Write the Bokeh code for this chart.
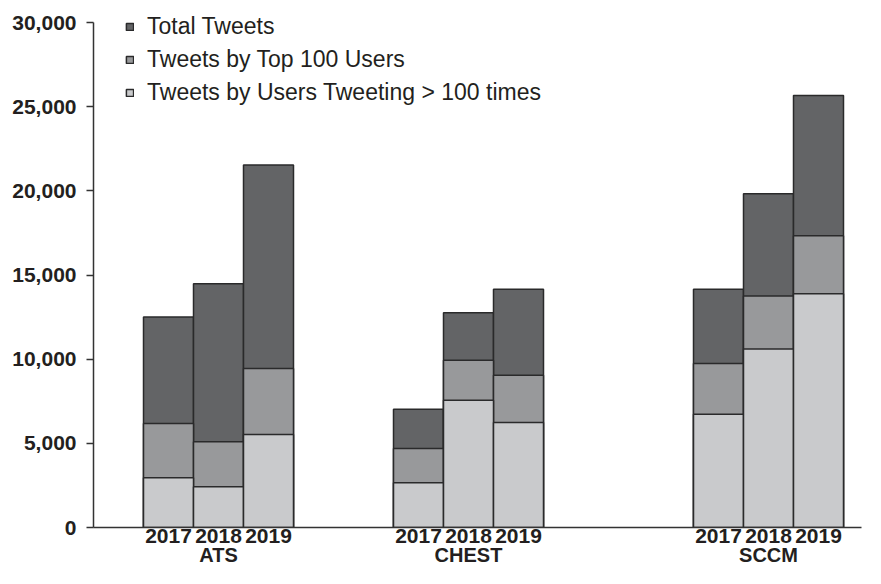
from bokeh.plotting import figure
from bokeh.models import ColumnDataSource, FixedTicker, LinearAxis, Legend, LegendItem, NumeralTickFormatter, Range1d
from bokeh.embed import file_html
from bokeh.resources import INLINE

# ---- data ----
groups = ["ATS", "CHEST", "SCCM"]
years = ["2017", "2018", "2019"]
total_tweets = [12500, 14480, 21540, 7030, 12760, 14150, 14160, 19820, 25670]
top100_tweets = [6180, 5090, 9440, 4700, 9930, 9050, 9740, 13750, 17330]
over100_tweets = [2960, 2420, 5530, 2660, 7560, 6240, 6730, 10610, 13890]
y_ticks = [0, 5000, 10000, 15000, 20000, 25000, 30000]

# ---- layout (bar slots) ----
group_start = [1.5, 6.5, 12.5]
xs = [group_start[g] + i for g in range(len(groups)) for i in range(len(years))]
year_labels = [years[i] for g in range(len(groups)) for i in range(len(years))]
group_centers = [s + (len(years) - 1) / 2 for s in group_start]
y_axis_top = y_ticks[-1]
y_view_top = 31070  # a little headroom above the axis so the legend fits in the frame

src = ColumnDataSource(dict(x=xs, total=total_tweets, top=top100_tweets, over=over100_tweets))

FONT = "Liberation Sans"
DARK = "#231f20"

p = figure(width=865, height=568, output_backend="svg", toolbar_location=None,
           x_range=Range1d(0, 15.36), y_range=Range1d(0, y_view_top),
           min_border_left=93, min_border_right=4, min_border_top=4, min_border_bottom=30,
           x_axis_location=None)
p.outline_line_color = None
p.xgrid.visible = False
p.ygrid.visible = False

kw = dict(width=1.0, bottom=0, line_color="#2a2a2b", line_width=1.5)
r1 = p.vbar(x="x", top="total", source=src, fill_color="#636466", **kw)
r2 = p.vbar(x="x", top="top", source=src, fill_color="#98999b", **kw)
r3 = p.vbar(x="x", top="over", source=src, fill_color="#c9cacc", **kw)

# y axis
ya = p.yaxis[0]
ya.ticker = FixedTicker(ticks=y_ticks)
ya.bounds = (0, y_axis_top)
ya.formatter = NumeralTickFormatter(format="0,0")
ya.major_label_text_font = FONT
ya.major_label_text_font_style = "bold"
ya.major_label_text_font_size = "21px"
ya.major_label_text_color = DARK
ya.major_tick_out = 7
ya.major_tick_in = 0
ya.minor_tick_line_color = None
ya.major_label_standoff = 10
ya.axis_line_color = "#333333"
ya.axis_line_width = 1.5
ya.major_tick_line_color = "#333333"
ya.major_tick_line_width = 1.5

# year axis
xa = LinearAxis(ticker=FixedTicker(ticks=xs),
                major_label_overrides={x: lab for x, lab in zip(xs, year_labels)})
xa.major_tick_out = 0
xa.major_tick_in = 0
xa.minor_tick_line_color = None
xa.major_label_standoff = 1
xa.axis_line_color = "#333333"
xa.axis_line_width = 1.5
xa.major_label_text_font = FONT
xa.major_label_text_font_style = "bold"
xa.major_label_text_font_size = "21px"
xa.major_label_text_color = DARK
p.add_layout(xa, "below")

# group axis
ga = LinearAxis(ticker=FixedTicker(ticks=group_centers),
                major_label_overrides={x: lab for x, lab in zip(group_centers, groups)})
ga.major_tick_out = 0
ga.major_tick_in = 0
ga.minor_tick_line_color = None
ga.major_label_standoff = -2
ga.axis_line_color = None
ga.major_label_text_font = FONT
ga.major_label_text_font_style = "bold"
ga.major_label_text_font_size = "20px"
ga.major_label_text_color = DARK
p.add_layout(ga, "below")

legend = Legend(items=[LegendItem(label="Total Tweets", renderers=[r1]),
                       LegendItem(label="Tweets by Top 100 Users", renderers=[r2]),
                       LegendItem(label="Tweets by Users Tweeting > 100 times", renderers=[r3])],
                location=(32, 421), orientation="vertical",
                glyph_width=9, glyph_height=9, label_standoff=13, spacing=6,
                padding=0, margin=0, border_line_alpha=0, background_fill_alpha=0,
                label_text_font=FONT, label_text_font_size="23px", label_text_color=DARK,
                label_height=24)
p.add_layout(legend, "center")

open("out.html", "w").write(file_html(p, INLINE))
